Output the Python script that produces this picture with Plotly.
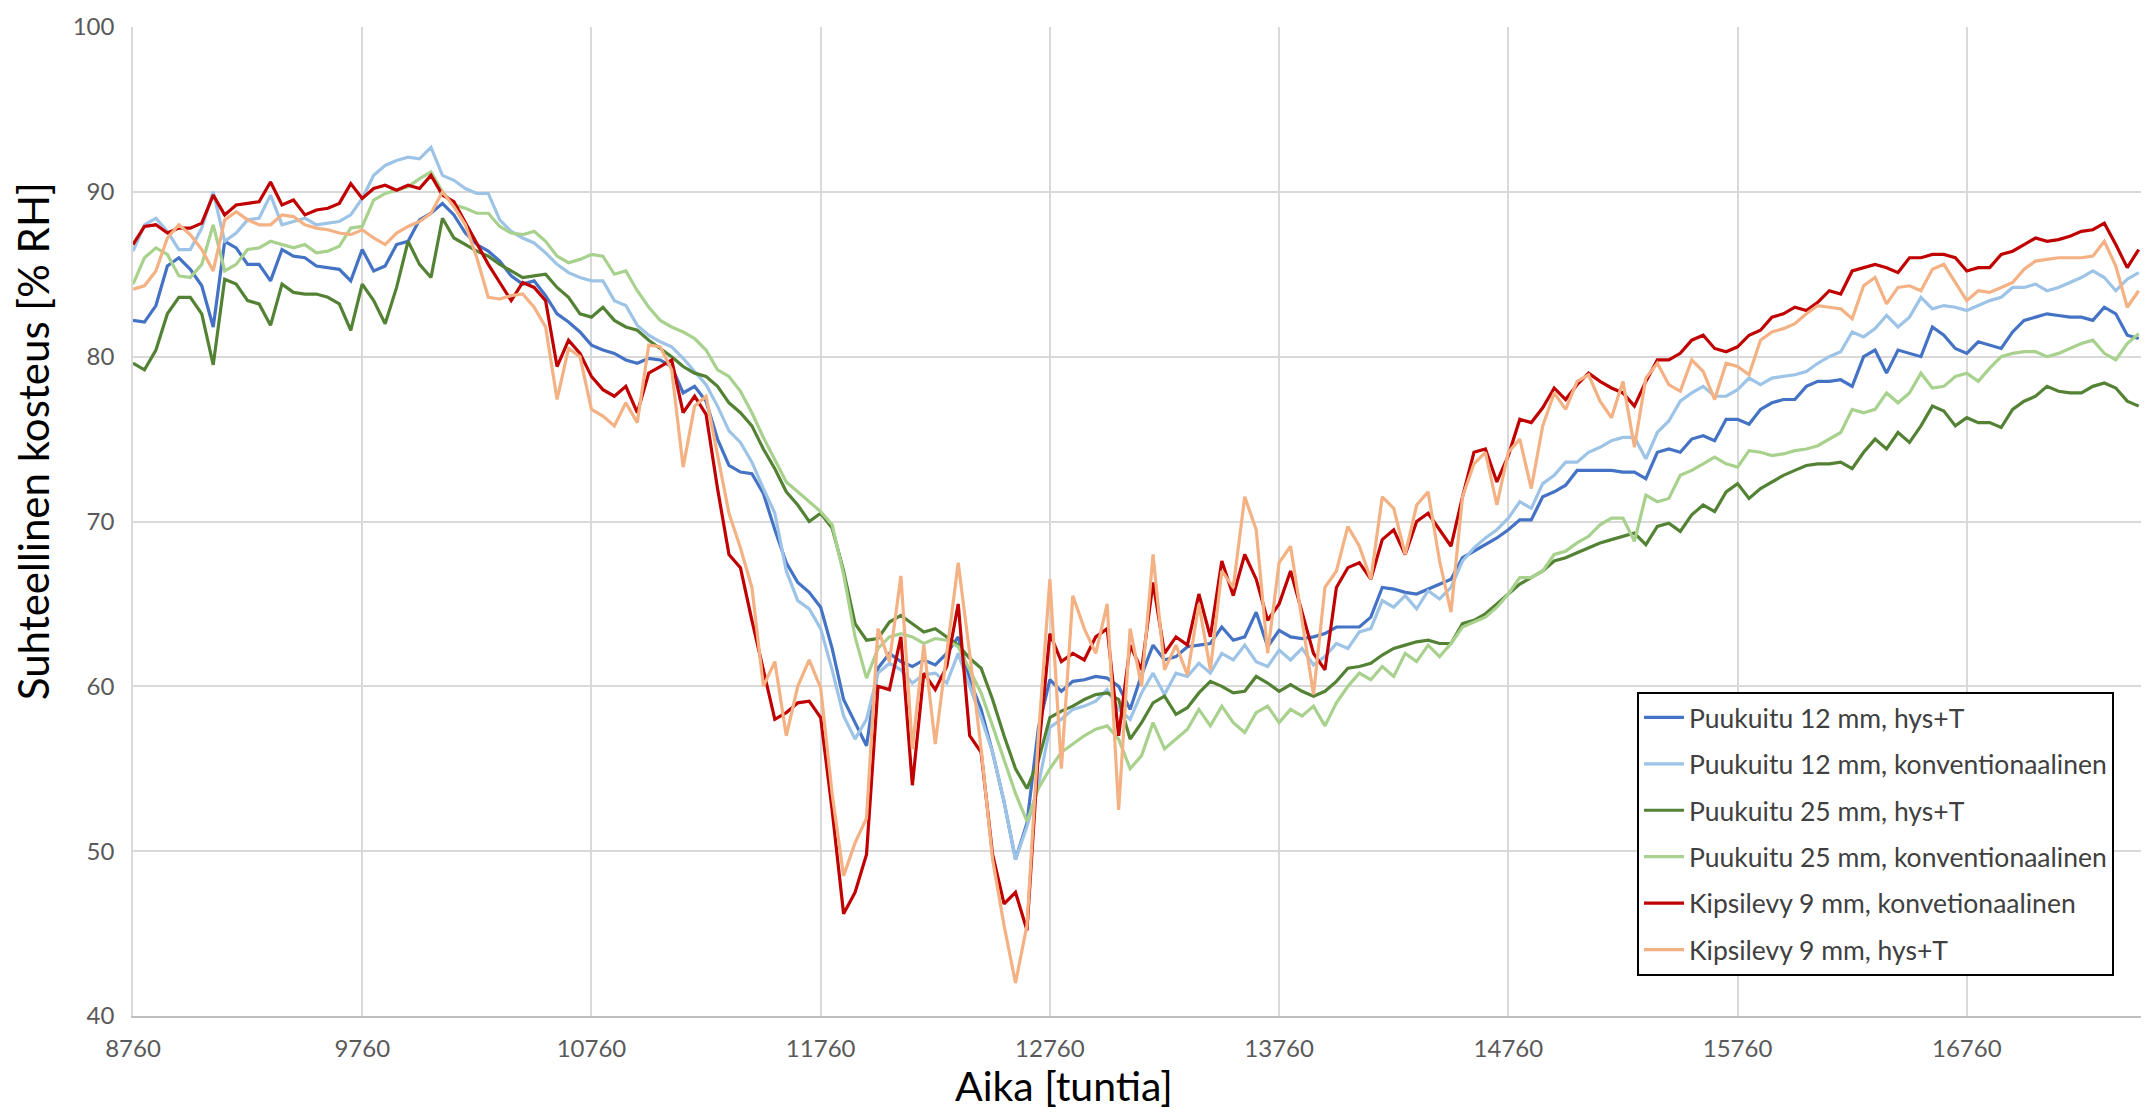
import plotly.graph_objects as go

# Hourly time axis of the second simulated year, sampled every 50 h
hours = list(range(8760, 17520, 50))

# Relative humidity [% RH] for each wall build-up
puukuitu12_hys = [
    82.2, 82.1, 83.1, 85.5, 86.0, 85.3, 84.3, 81.8, 87.0, 86.6,
    85.6, 85.6, 84.6, 86.5, 86.1, 86.0, 85.5, 85.4, 85.3, 84.6,
    86.5, 85.2, 85.5, 86.8, 87.0, 88.3, 88.7, 89.3, 88.6, 87.5,
    86.8, 86.4, 85.8, 84.9, 84.4, 84.6, 83.7, 82.6, 82.1, 81.5,
    80.7, 80.4, 80.2, 79.8, 79.6, 79.9, 79.8, 79.4, 77.8, 78.2,
    77.3, 75.0, 73.4, 73.0, 72.9, 71.7, 69.5, 67.5, 66.3, 65.7,
    64.8, 62.3, 59.2, 57.8, 56.4, 61.1, 62.0, 61.5, 61.2, 61.6,
    61.3, 62.0, 63.0, 60.4, 58.6, 56.0, 53.0, 49.5, 51.7, 57.5,
    60.4, 59.7, 60.3, 60.4, 60.6, 60.5, 60.0, 58.6, 60.7, 62.5,
    61.6, 61.8, 62.4, 62.5, 62.6, 63.6, 62.8, 63.0, 64.5, 62.4,
    63.4, 63.0, 62.9, 63.0, 63.2, 63.6, 63.6, 63.6, 64.2, 66.0,
    65.9, 65.7, 65.6, 65.9, 66.2, 66.5, 67.8, 68.2, 68.6, 69.0,
    69.5, 70.1, 70.1, 71.5, 71.8, 72.2, 73.1, 73.1, 73.1, 73.1,
    73.0, 73.0, 72.6, 74.2, 74.4, 74.2, 75.0, 75.2, 74.9, 76.2,
    76.2, 75.9, 76.8, 77.2, 77.4, 77.4, 78.2, 78.5, 78.5, 78.6,
    78.2, 80.0, 80.4, 79.0, 80.4, 80.2, 80.0, 81.8, 81.3, 80.5,
    80.2, 80.9, 80.7, 80.5, 81.5, 82.2, 82.4, 82.6, 82.5, 82.4,
    82.4, 82.2, 83.0, 82.6, 81.3, 81.1,
]

puukuitu12_konv = [
    86.4, 88.0, 88.4, 87.6, 86.5, 86.5, 87.8, 90.0, 87.0, 87.5,
    88.3, 88.4, 89.8, 88.0, 88.2, 88.4, 88.0, 88.1, 88.2, 88.6,
    89.6, 91.0, 91.6, 91.9, 92.1, 92.0, 92.7, 91.0, 90.7, 90.2,
    89.9, 89.9, 88.3, 87.6, 87.2, 86.9, 86.3, 85.6, 85.1, 84.8,
    84.6, 84.6, 83.4, 83.1, 81.9, 81.3, 80.9, 80.6, 79.9, 79.1,
    78.3, 77.0, 75.5, 74.8, 73.6, 72.0, 70.5, 67.0, 65.2, 64.7,
    63.5, 61.0, 58.2, 56.8, 58.0, 60.8, 61.4, 61.0, 60.2, 60.7,
    60.8, 60.2, 62.0, 60.0, 58.1, 56.0, 53.0, 49.5, 51.5, 54.0,
    57.5, 58.0, 58.6, 58.8, 59.1, 59.8, 58.6, 58.0, 59.6, 60.8,
    59.5, 60.8, 60.6, 61.4, 60.8, 62.0, 61.6, 62.5, 61.5, 61.2,
    62.2, 61.6, 62.3, 61.3, 61.8, 62.6, 62.3, 63.3, 63.5, 65.2,
    64.8, 65.5, 64.7, 65.8, 65.3, 66.0, 67.6, 68.4, 69.0, 69.5,
    70.2, 71.2, 70.8, 72.3, 72.8, 73.6, 73.6, 74.2, 74.5, 74.9,
    75.1, 75.1, 73.8, 75.4, 76.1, 77.3, 77.8, 78.2, 77.6, 77.6,
    78.0, 78.7, 78.3, 78.7, 78.8, 78.9, 79.1, 79.6, 80.0, 80.3,
    81.5, 81.2, 81.7, 82.5, 81.8, 82.4, 83.6, 82.9, 83.1, 83.0,
    82.8, 83.1, 83.4, 83.6, 84.2, 84.2, 84.4, 84.0, 84.2, 84.5,
    84.8, 85.2, 84.8, 84.0, 84.7, 85.1,
]

puukuitu25_hys = [
    79.6, 79.2, 80.4, 82.6, 83.6, 83.6, 82.6, 79.5, 84.7, 84.4,
    83.4, 83.2, 81.9, 84.4, 83.9, 83.8, 83.8, 83.6, 83.2, 81.6,
    84.4, 83.4, 82.0, 84.2, 87.0, 85.6, 84.8, 88.4, 87.2, 86.8,
    86.4, 86.1, 85.6, 85.2, 84.8, 84.9, 85.0, 84.2, 83.6, 82.6,
    82.4, 83.0, 82.2, 81.8, 81.6, 81.0, 80.5, 80.0, 79.4, 79.0,
    78.8, 78.2, 77.2, 76.6, 75.8, 74.4, 73.2, 71.8, 71.0, 70.0,
    70.5, 69.6, 67.0, 63.8, 62.8, 62.9, 63.9, 64.3, 63.8, 63.3,
    63.5, 63.0, 62.5, 61.7, 61.1, 59.2, 57.0, 55.0, 53.8, 55.5,
    58.1, 58.5, 58.8, 59.2, 59.5, 59.6, 59.2, 56.8, 57.8, 59.0,
    59.4, 58.3, 58.7, 59.6, 60.3, 60.0, 59.6, 59.7, 60.6, 60.2,
    59.7, 60.1, 59.7, 59.4, 59.7, 60.3, 61.1, 61.2, 61.4, 61.9,
    62.3, 62.5, 62.7, 62.8, 62.6, 62.6, 63.8, 64.0, 64.4, 65.0,
    65.6, 66.2, 66.6, 67.0, 67.6, 67.8, 68.1, 68.4, 68.7, 68.9,
    69.1, 69.3, 68.6, 69.7, 69.9, 69.4, 70.4, 71.0, 70.6, 71.8,
    72.3, 71.4, 72.0, 72.4, 72.8, 73.1, 73.4, 73.5, 73.5, 73.6,
    73.2, 74.2, 75.0, 74.4, 75.4, 74.8, 75.8, 77.0, 76.7, 75.8,
    76.3, 76.0, 76.0, 75.7, 76.8, 77.3, 77.6, 78.2, 77.9, 77.8,
    77.8, 78.2, 78.4, 78.1, 77.3, 77.0,
]

puukuitu25_konv = [
    84.4, 86.0, 86.6, 86.2, 84.9, 84.8, 85.6, 88.0, 85.2, 85.6,
    86.5, 86.6, 87.0, 86.8, 86.6, 86.8, 86.3, 86.4, 86.7, 87.8,
    87.9, 89.5, 89.9, 90.1, 90.3, 90.8, 91.2, 90.0, 89.2, 89.0,
    88.7, 88.7, 87.9, 87.5, 87.4, 87.6, 87.0, 86.1, 85.7, 85.9,
    86.2, 86.1, 85.0, 85.2, 84.0, 83.0, 82.2, 81.8, 81.5, 81.1,
    80.4, 79.2, 78.8, 77.9, 76.6, 75.1, 73.7, 72.4, 71.8, 71.2,
    70.6, 69.8, 66.8, 63.0, 60.5, 62.3, 63.0, 63.2, 63.0, 62.6,
    62.9, 62.8, 62.4, 61.0, 59.6, 57.6, 55.5, 53.5, 51.8, 53.8,
    55.0, 56.0, 56.5, 57.0, 57.4, 57.6, 56.8, 55.0, 55.8, 57.8,
    56.2, 56.8, 57.4, 58.6, 57.6, 58.8, 57.8, 57.2, 58.4, 58.8,
    57.8, 58.6, 58.2, 58.8, 57.6, 59.0, 60.0, 60.8, 60.4, 61.2,
    60.6, 62.0, 61.5, 62.5, 61.8, 62.6, 63.6, 63.9, 64.2, 64.8,
    65.6, 66.6, 66.6, 67.0, 68.0, 68.2, 68.7, 69.1, 69.8, 70.2,
    70.2, 68.8, 71.6, 71.2, 71.4, 72.8, 73.1, 73.5, 73.9, 73.5,
    73.3, 74.3, 74.2, 74.0, 74.1, 74.3, 74.4, 74.6, 75.0, 75.4,
    76.8, 76.6, 76.8, 77.8, 77.2, 77.8, 79.0, 78.1, 78.2, 78.8,
    79.0, 78.5, 79.3, 80.0, 80.2, 80.3, 80.3, 80.0, 80.2, 80.5,
    80.8, 81.0, 80.2, 79.8, 80.8, 81.4,
]

kipsilevy9_konv = [
    86.8, 87.9, 88.0, 87.5, 87.8, 87.8, 88.1, 89.8, 88.6, 89.2,
    89.3, 89.4, 90.6, 89.2, 89.5, 88.6, 88.9, 89.0, 89.3, 90.5,
    89.6, 90.2, 90.4, 90.1, 90.4, 90.2, 91.0, 89.8, 89.4, 88.1,
    86.8, 85.6, 84.5, 83.4, 84.5, 84.2, 83.4, 79.4, 81.0, 80.2,
    78.8, 78.0, 77.6, 78.2, 76.6, 79.0, 79.4, 79.8, 76.6, 77.6,
    76.5, 72.0, 68.0, 67.2, 64.0, 61.0, 58.0, 58.4, 59.0, 59.1,
    58.1, 52.5, 46.2, 47.5, 49.8, 60.0, 59.8, 63.0, 54.0, 60.8,
    59.8, 61.2, 65.0, 57.0, 56.0, 49.8, 46.8, 47.5, 45.2, 56.0,
    63.2, 61.5, 62.0, 61.6, 63.0, 63.5, 57.0, 62.5, 61.0, 66.3,
    62.0, 63.0, 62.5, 65.6, 63.0, 67.6, 65.5, 68.0, 66.5, 64.0,
    65.0, 67.0, 64.5, 62.0, 61.0, 66.0, 67.2, 67.5, 66.5, 68.9,
    69.5, 68.0, 70.0, 70.5, 69.5, 68.5, 71.5, 74.2, 74.4, 72.4,
    74.0, 76.2, 76.0, 76.9, 78.1, 77.4, 78.3, 79.0, 78.5, 78.1,
    77.8, 77.0, 78.5, 79.8, 79.8, 80.2, 81.0, 81.3, 80.5, 80.3,
    80.6, 81.3, 81.6, 82.4, 82.6, 83.0, 82.8, 83.3, 84.0, 83.8,
    85.2, 85.4, 85.6, 85.4, 85.1, 86.0, 86.0, 86.2, 86.2, 86.0,
    85.2, 85.4, 85.4, 86.2, 86.4, 86.8, 87.2, 87.0, 87.1, 87.3,
    87.6, 87.7, 88.1, 86.8, 85.4, 86.5,
]

kipsilevy9_hys = [
    84.1, 84.3, 85.2, 87.2, 88.0, 87.4, 86.5, 85.2, 88.3, 88.8,
    88.3, 88.0, 88.0, 88.6, 88.5, 88.0, 87.8, 87.7, 87.5, 87.4,
    87.7, 87.2, 86.8, 87.5, 87.9, 88.2, 88.7, 90.0, 89.1, 88.0,
    86.0, 83.6, 83.5, 83.7, 83.8, 83.0, 81.8, 77.4, 80.5, 80.0,
    76.8, 76.4, 75.8, 77.2, 76.0, 80.7, 80.6, 79.2, 73.3, 77.0,
    77.6, 74.0, 70.5, 68.4, 66.0, 60.0, 61.5, 57.0, 60.0, 61.6,
    59.9, 53.5, 48.5, 50.5, 52.0, 63.5, 61.5, 66.7, 56.2, 62.5,
    56.5, 62.0, 67.5, 62.0, 56.2, 49.5, 45.5, 42.0, 45.5, 57.0,
    66.5, 55.0, 65.5, 63.5, 62.0, 65.0, 52.5, 63.5, 60.0, 68.0,
    61.0, 62.5, 60.7, 65.0, 61.0, 67.0, 66.0, 71.5, 69.5, 62.0,
    67.5, 68.5, 64.0, 59.5, 66.0, 67.0, 69.7, 68.5, 66.5, 71.5,
    70.8, 68.0, 71.0, 71.8, 67.6, 64.5, 71.5, 73.5, 74.2, 71.0,
    74.2, 75.0, 72.0, 75.8, 77.8, 76.8, 78.5, 78.9, 77.3, 76.3,
    78.5, 74.5, 78.7, 79.6, 78.3, 77.9, 79.8, 79.1, 77.4, 79.6,
    79.4, 78.9, 81.0, 81.5, 81.7, 82.0, 82.6, 83.1, 83.0, 82.9,
    82.3, 84.3, 84.8, 83.2, 84.2, 84.3, 84.0, 85.3, 85.6, 84.5,
    83.4, 84.0, 83.9, 84.2, 84.5, 85.3, 85.8, 85.9, 86.0, 86.0,
    86.0, 86.1, 87.0, 85.5, 83.0, 84.0,
]

series_names = [
    "Puukuitu 12 mm, hys+T",
    "Puukuitu 12 mm, konventionaalinen",
    "Puukuitu 25 mm, hys+T",
    "Puukuitu 25 mm, konventionaalinen",
    "Kipsilevy 9 mm, konvetionaalinen",
    "Kipsilevy 9 mm, hys+T",
]
series_values = [
    puukuitu12_hys,
    puukuitu12_konv,
    puukuitu25_hys,
    puukuitu25_konv,
    kipsilevy9_konv,
    kipsilevy9_hys,
]
series_colors = ["#4472C4", "#9DC3E6", "#548235", "#A9D18E", "#C00000", "#F4B183"]

x_ticks = list(range(8760, 17760, 1000))
y_ticks = list(range(40, 101, 10))

x_title = "Aika [tuntia]"
y_title = "Suhteellinen kosteus [% RH]"

FONT = "Lato"

fig = go.Figure()
for i, (name, vals, col) in enumerate(zip(series_names, series_values, series_colors)):
    fig.add_trace(go.Scatter(
        x=hours, y=vals, name=name, mode="lines",
        line=dict(color=col, width=3.2),
        legendgroup=f"g{i}",
    ))

# Axis titles sit relative to the whole chart area rather than the plot area
fig.add_annotation(
    text=y_title, textangle=-90, showarrow=False,
    xref="paper", yref="paper", x=-0.0494, y=0.581,
    xanchor="center", yanchor="middle",
    font=dict(family=FONT, size=42, color="black"),
)
fig.add_annotation(
    text=x_title, showarrow=False,
    xref="paper", yref="paper", x=0.4636, y=-0.0702,
    xanchor="center", yanchor="middle",
    font=dict(family=FONT, size=41, color="black"),
)

fig.update_layout(
    width=2152, height=1115,
    margin=dict(l=133, r=11, t=19, b=99),
    paper_bgcolor="white", plot_bgcolor="white",
    font=dict(family=FONT, color="#595959", size=24),
    showlegend=True,
    legend=dict(
        x=0.749, y=0.328, xanchor="left", yanchor="top",
        bgcolor="white", bordercolor="black", borderwidth=2,
        font=dict(family=FONT, size=26.5, color="#404040"),
        traceorder="grouped", tracegroupgap=9,
        itemwidth=40,
    ),
    xaxis=dict(
        range=[8760, 17520], tickvals=x_ticks, tickformat="d",
        showgrid=True, gridcolor="#D9D9D9", gridwidth=1.5,
        showline=True, linecolor="#BFBFBF", linewidth=1.5,
        zeroline=False, ticks="", ticklabelstandoff=10,
        tickfont=dict(size=24, color="#595959"),
    ),
    yaxis=dict(
        range=[40, 100], tickvals=y_ticks,
        showgrid=True, gridcolor="#D9D9D9", gridwidth=1.5,
        showline=True, linecolor="#D9D9D9", linewidth=1.5,
        zeroline=False, ticks="", ticklabelstandoff=12,
        tickfont=dict(size=24, color="#595959"),
    ),
)

fig.write_html("out.html")
